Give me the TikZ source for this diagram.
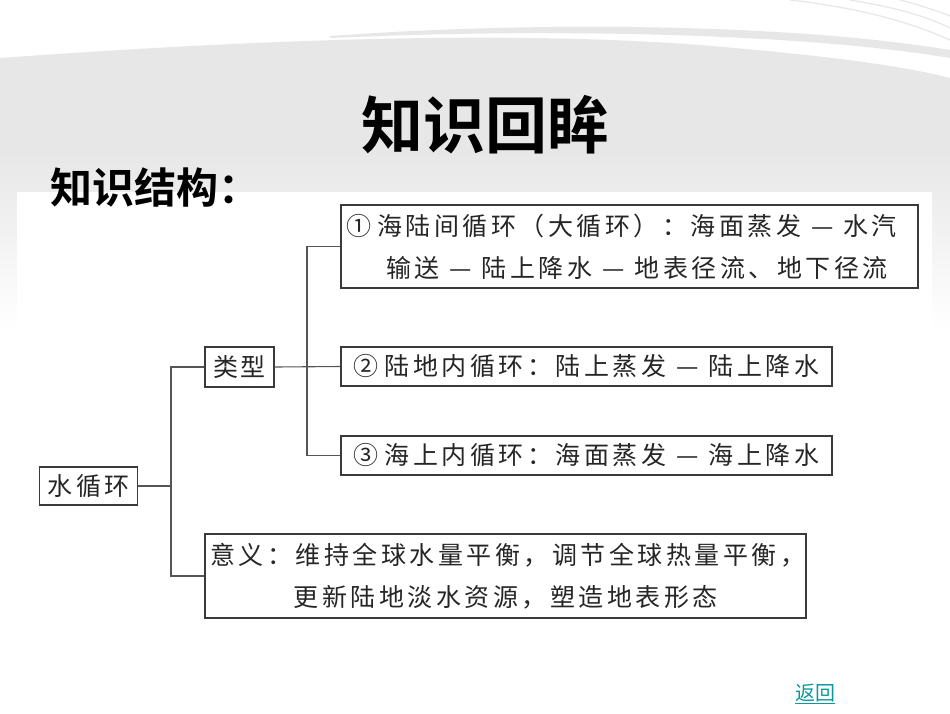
\documentclass[tikz,border=0pt]{standalone}
\usepackage{fontspec}
\newfontfamily\cjk[LetterSpace=14]{Noto Sans CJK SC}
\newfontfamily\cjkt[BoldFont={* Bold}]{Noto Sans CJK SC}
\definecolor{bggray}{HTML}{E7E7E7}
\definecolor{boxline}{HTML}{3A3A3A}
\definecolor{connline}{HTML}{555555}
\definecolor{linkteal}{HTML}{0A9A9C}
\newcommand{\dsh}{\hspace{10pt}—\hspace{10pt}}
\tikzset{
  box/.style={draw=boxline, line width=1.1pt, fill=white, inner sep=3pt, text=black!85,
    font=\cjk\fontsize{25}{42}\selectfont},
  conn/.style={draw=connline, line width=1.1pt},
}
\begin{document}
\begin{tikzpicture}[x=1pt,y=-1pt]
\useasboundingbox (0,0) rectangle (950,713);
\fill[white] (0,0) rectangle (950,713);
% background swooshes
\fill[bggray] (0,58) .. controls (250,40) and (500,30) .. (700,45) .. controls (820,55) and (900,65) .. (950,78) -- (950,152) -- (0,152) -- cycle;
\shade[top color=bggray, bottom color=white] (0,151) rectangle (950,330);
\fill[bggray] (330,36) .. controls (550,20) and (800,25) .. (950,50) -- (950,58) .. controls (800,33) and (550,28) .. (330,38) -- cycle;
\draw[bggray, line width=1.2pt] (790,0) .. controls (860,8) and (910,22) .. (950,40);
\draw[bggray, line width=1.2pt] (850,0) .. controls (900,8) and (930,18) .. (950,28);
\draw[bggray, line width=1.2pt] (900,0) .. controls (920,5) and (940,12) .. (950,16);
% white panel
\fill[white] (17,192) rectangle (932,713);
% titles
\node[font=\cjkt\bfseries\fontsize{62}{62}\selectfont, text=black] (title) at (485,125) {知识回眸};
\node[font=\cjkt\bfseries\fontsize{42}{42}\selectfont, anchor=west, inner sep=0pt] (sub) at (50,188) {知识结构：};
% boxes
\node[box, minimum width=98pt, minimum height=38pt] (water) at (88.5,486) {水循环};
\node[box, minimum width=69pt, minimum height=40pt] (type) at (239.5,367) {类\hspace{2pt}型};
\node[box, minimum width=577pt, minimum height=83pt, text width=567pt, align=left] (b1) at (629.5,246.5)
  {①\hspace{6pt}海陆间循环（大循环）：海面蒸发\dsh 水汽\\\hspace*{40pt}输送\dsh 陆上降水\dsh 地表径流、地下径流};
\node[box, minimum width=491pt, minimum height=39pt] (b2) at (586.5,366.5) {②\hspace{6pt}陆地内循环：陆上蒸发\dsh 陆上降水};
\node[box, minimum width=491pt, minimum height=39pt] (b3) at (586.5,455.5) {③\hspace{6pt}海上内循环：海面蒸发\dsh 海上降水};
\node[box, minimum width=601pt, minimum height=84pt, text width=591pt, align=center] (yiyi) at (505.5,576)
  {意义：维持全球水量平衡，调节全球热量平衡，\\更新陆地淡水资源，塑造地表形态};
% connectors
\coordinate (j1) at (171,486);
\coordinate (j2) at (307,366.5);
\draw[conn] (water.east) -- (j1);
\draw[conn] (type.west) -| (j1) |- (yiyi.west);
\draw[conn] (type.east) -- (b2.west);
\draw[conn] (b1.west) -| (j2) |- (b3.west);
% link
\node[font=\cjkt\fontsize{20}{20}\selectfont, text=linkteal, inner sep=0pt] (back) at (815,694) {\underline{返回}};
\end{tikzpicture}
\end{document}
